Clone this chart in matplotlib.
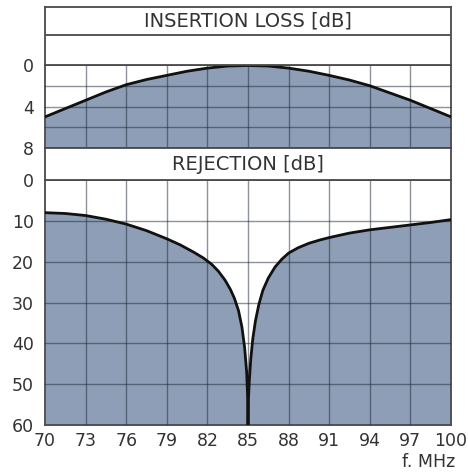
"""
Band-pass filter response: insertion loss and rejection vs frequency
"""

import matplotlib
matplotlib.use('Agg')
import matplotlib.pyplot as plt
import numpy as np

# Data
freq_ticks = [70, 73, 76, 79, 82, 85, 88, 91, 94, 97, 100]

il_freq = [70, 71.5, 73, 74.5, 76, 77.5, 79, 80.5, 82, 83.5, 85,
           86.5, 88, 89.5, 91, 92.5, 94, 95.5, 97, 98.5, 100]
il_db = [5.0, 4.2, 3.4, 2.6, 1.9, 1.4, 1.0, 0.6, 0.3, 0.1, 0.05,
         0.1, 0.3, 0.6, 1.0, 1.45, 2.0, 2.7, 3.4, 4.2, 5.0]

rej_freq = [70, 71.5, 73, 74.5, 76, 77.5, 79, 80, 81, 81.7, 82.3, 82.8, 83.3,
            83.7, 84.0, 84.3, 84.55, 84.75, 84.9, 84.97, 85,
            85.03, 85.1, 85.2, 85.35, 85.55, 85.8, 86.1, 86.5, 87.0, 87.5, 88,
            88.7, 89.5, 90.3, 91, 92.5, 94, 95.5, 97, 98.5, 100]
rej_db = [8.0, 8.2, 8.7, 9.6, 10.8, 12.4, 14.4, 15.9, 17.7, 19.1, 20.6, 22.3, 24.5,
          26.8, 29.0, 32.0, 36.0, 41.0, 47.0, 53.0, 60.0,
          54.0, 49.0, 44.0, 39.0, 34.5, 30.5, 27.0, 24.0, 21.3, 19.4, 17.9,
          16.6, 15.5, 14.7, 14.1, 13.0, 12.2, 11.6, 11.0, 10.4, 9.7]

il_ticks = [0, 4, 8]
il_grid = [0, 2, 4, 6, 8]
rej_ticks = [0, 10, 20, 30, 40, 50, 60]

FILL = '#8e9eb6'
GRID = '#1c2738'
FRAME = '#4a4a4a'
TEXT = '#333333'

W, H = 468, 475
fig = plt.figure(figsize=(W / 100, H / 100), dpi=100)
fig.patch.set_facecolor('white')


def px_axes(left, top, right, bottom):
    """axes placed by pixel edges"""
    return fig.add_axes([left / W, 1 - bottom / H, (right - left) / W, (bottom - top) / H])


def style_panel(ax, ymax, ygrid, yticks, ylabels):
    ax.set_xlim(70, 100)
    ax.set_ylim(ymax, 0)
    for x in freq_ticks[1:-1]:
        ax.axvline(x, color=GRID, lw=1.0, alpha=0.5, zorder=3)
    for y in ygrid[1:-1]:
        ax.axhline(y, color=GRID, lw=1.0, alpha=0.5, zorder=3)
    ax.set_yticks(yticks)
    ax.set_yticklabels(ylabels, fontsize=12.5, color=TEXT)
    ax.tick_params(axis='y', length=0, pad=8)
    for s in ax.spines.values():
        s.set_color(FRAME)
        s.set_linewidth(1.3)


# Insertion loss panel
ax1 = px_axes(45, 65, 451, 148)
ax1.fill_between(il_freq, il_db, 8, color=FILL, lw=0, zorder=1)
ax1.plot(il_freq, il_db, color='#111111', lw=2.0, zorder=4)
style_panel(ax1, 8, il_grid, il_ticks, [str(t) for t in il_ticks])
ax1.set_xticks([])

# Rejection panel
ax2 = px_axes(45, 180, 451, 425)
ax2.fill_between(rej_freq, rej_db, 60, color=FILL, lw=0, zorder=1)
ax2.plot(rej_freq, rej_db, color='#111111', lw=2.0, zorder=4)
style_panel(ax2, 60, rej_ticks, rej_ticks, [str(t) for t in rej_ticks])
ax2.set_xticks(freq_ticks)
ax2.set_xticklabels([str(t) for t in freq_ticks], fontsize=12.5, color=TEXT)
ax2.tick_params(axis='x', length=0, pad=5)

# Title rows with frame
top = px_axes(45, 7, 451, 65)
top.set_xlim(0, 1)
top.set_ylim(0, 1)
top.set_xticks([])
top.set_yticks([])
for s in top.spines.values():
    s.set_color(FRAME)
    s.set_linewidth(1.3)
top.axhline(1 - 28 / 58, color=FRAME, lw=1.3)
top.text(0.5, 1 - 14 / 58, 'INSERTION LOSS [dB]', ha='center', va='center',
         fontsize=14, color=TEXT)

mid = px_axes(45, 148, 451, 180)
mid.set_xticks([])
mid.set_yticks([])
for s in mid.spines.values():
    s.set_color(FRAME)
    s.set_linewidth(1.3)
mid.text(0.5, 0.5, 'REJECTION [dB]', ha='center', va='center',
         fontsize=14, color=TEXT, transform=mid.transAxes)

fig.text(455 / W, 1 - 462 / H, 'f. MHz', ha='right', va='center',
         fontsize=12.5, color=TEXT)

plt.savefig('out.png', dpi=100, facecolor='white')
plt.close()
